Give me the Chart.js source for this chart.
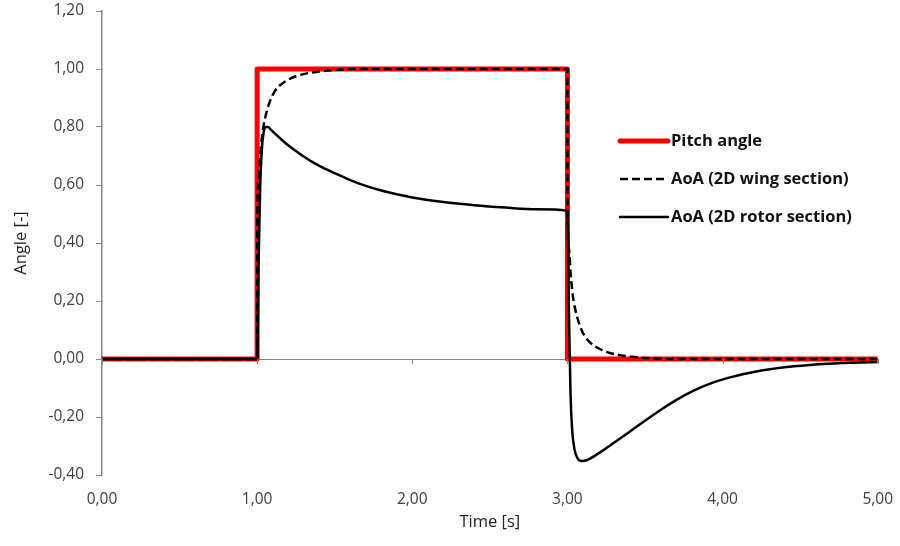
<!DOCTYPE html>
<html>
<head>
<meta charset="utf-8">
<script src="https://cdn.jsdelivr.net/npm/chart.js@4/dist/chart.umd.min.js"></script>
<style>
  html, body { margin: 0; padding: 0; background: #fff; }
  #wrap { width: 900px; height: 546px; }
</style>
</head>
<body>
<div id="wrap"><canvas id="angleChart" width="900" height="546"></canvas></div>
<script>
// values
var xTicks = [0, 1, 2, 3, 4, 5];
var yTicks = [-0.4, -0.2, 0, 0.2, 0.4, 0.6, 0.8, 1.0, 1.2];

var pitchTime  = [0, 1, 1, 3, 3, 5];
var pitchAngle = [0, 0, 1, 1, 0, 0];

var wingTime = [0, 1.00, 1.001, 1.01, 1.02, 1.03, 1.04, 1.06, 1.08, 1.11, 1.15, 1.20, 1.26, 1.33, 1.40, 1.52, 1.70,
                3.00, 3.001, 3.01, 3.02, 3.03, 3.04, 3.06, 3.08, 3.11, 3.15, 3.20, 3.26, 3.33, 3.40, 3.52, 3.70, 5.00];
var wingAoA  = [0, 0, 0.50, 0.62, 0.70, 0.76, 0.80, 0.85, 0.885, 0.92, 0.945, 0.963, 0.977, 0.986, 0.991, 0.997, 1.0,
                1.0, 0.50, 0.38, 0.30, 0.24, 0.20, 0.15, 0.115, 0.08, 0.055, 0.037, 0.023, 0.014, 0.009, 0.003, 0, 0];

var rotorTime = [0, 1.00, 1.01, 1.02, 1.03, 1.04, 1.055, 1.07, 1.09, 1.12, 1.16, 1.20, 1.25, 1.30, 1.36, 1.42, 1.50,
                 1.60, 1.70, 1.80, 1.90, 2.00, 2.20, 2.40, 2.60, 2.80, 3.00,
                 3.01, 3.02, 3.03, 3.045, 3.065, 3.09, 3.11, 3.14, 3.17, 3.23, 3.30, 3.39, 3.50, 3.60, 3.70,
                 3.81, 3.92, 4.03, 4.25, 4.46, 4.68, 5.00];
var rotorAoA  = [0, 0, 0.35, 0.60, 0.72, 0.775, 0.80, 0.80, 0.79, 0.775, 0.755, 0.737, 0.717, 0.698, 0.678, 0.661, 0.641,
                 0.617, 0.597, 0.581, 0.568, 0.557, 0.541, 0.530, 0.522, 0.516, 0.511,
                 0.15, -0.12, -0.24, -0.31, -0.342, -0.352, -0.351, -0.345, -0.336, -0.315, -0.289, -0.255, -0.213, -0.176, -0.142,
                 -0.110, -0.085, -0.066, -0.040, -0.025, -0.016, -0.010];

function toPoints(xs, ys) {
  return xs.map(function(x, i) { return { x: x, y: ys[i] }; });
}

function comma(v) {
  return v.toFixed(2).replace('.', ',');
}

var axisGrey = '#868686';
var textGrey = '#404040';

// small tick marks hanging below the zero line
var zeroTicks = {
  id: 'zeroTicks',
  afterDatasetsDraw: function(chart) {
    var ctx = chart.ctx, xs = chart.scales.x, y0 = chart.scales.y.getPixelForValue(0);
    ctx.save();
    ctx.strokeStyle = axisGrey;
    ctx.lineWidth = 1;
    xTicks.forEach(function(t) {
      var px = Math.round(xs.getPixelForValue(t)) + 0.5;
      ctx.beginPath();
      ctx.moveTo(px, y0);
      ctx.lineTo(px, y0 + 5);
      ctx.stroke();
    });
    ctx.restore();
  }
};

// legend sitting inside the plot, right side
var insideLegend = {
  id: 'insideLegend',
  afterDraw: function(chart) {
    var ctx = chart.ctx;
    var x0 = 620, x1 = 668, rowY = [141, 179, 217];
    ctx.save();
    ctx.font = 'bold 16.5px "Open Sans"';
    ctx.textBaseline = 'middle';
    chart.data.datasets.forEach(function(ds, i) {
      ctx.beginPath();
      ctx.strokeStyle = ds.borderColor;
      ctx.lineWidth = ds.borderWidth;
      ctx.lineCap = ds.borderDash ? 'butt' : 'round';
      ctx.setLineDash(ds.borderDash || []);
      ctx.moveTo(x0, rowY[i]);
      ctx.lineTo(x1, rowY[i]);
      ctx.stroke();
      ctx.setLineDash([]);
      ctx.fillStyle = '#111';
      ctx.fillText(ds.label, x1 + 3, rowY[i]);
    });
    ctx.restore();
  }
};

var chart = new Chart(document.getElementById('angleChart'), {
  type: 'line',
  data: {
    datasets: [{
      label: 'Pitch angle',
      data: toPoints(pitchTime, pitchAngle),
      borderColor: '#ff0000',
      borderWidth: 5,
      order: 3
    }, {
      label: 'AoA (2D wing section)',
      data: toPoints(wingTime, wingAoA),
      borderColor: '#000000',
      borderWidth: 2.5,
      borderDash: [8, 4],
      cubicInterpolationMode: 'monotone',
      order: 2
    }, {
      label: 'AoA (2D rotor section)',
      data: toPoints(rotorTime, rotorAoA),
      borderColor: '#000000',
      borderWidth: 2.5,
      cubicInterpolationMode: 'monotone',
      order: 1
    }]
  },
  options: {
    responsive: false,
    animation: false,
    events: [],
    layout: { padding: { left: 0, right: 14, top: 11, bottom: 0 } },
    elements: {
      point: { radius: 0 },
      line: { tension: 0, fill: false, borderJoinStyle: 'round' }
    },
    plugins: {
      legend: { display: false },
      tooltip: { enabled: false }
    },
    scales: {
      x: {
        type: 'linear',
        min: 0,
        max: 5,
        afterBuildTicks: function(scale) {
          scale.ticks = xTicks.map(function(v) { return { value: v }; });
        },
        afterFit: function(scale) { scale.height = 71; },
        grid: { display: false },
        border: { display: false },
        ticks: {
          padding: 7,
          color: textGrey,
          font: { family: 'Open Sans', size: 15.5 },
          maxRotation: 0,
          callback: function(v) { return comma(v); }
        },
        title: {
          display: true,
          text: 'Time [s]',
          color: '#222',
          font: { family: 'Open Sans', size: 16.5 },
          padding: { top: 4, bottom: 14 }
        }
      },
      y: {
        min: -0.4,
        max: 1.2,
        afterBuildTicks: function(scale) {
          scale.ticks = yTicks.map(function(v) { return { value: v }; });
        },
        afterFit: function(scale) {
          scale.width = 102;
          scale.paddingTop = 0;
        },
        grid: {
          drawOnChartArea: true,
          tickLength: 6,
          tickColor: axisGrey,
          color: function(c) { return c.tick && Math.abs(c.tick.value) < 1e-9 ? axisGrey : 'rgba(0,0,0,0)'; }
        },
        border: { display: true, color: axisGrey, width: 1.5 },
        ticks: {
          padding: 12,
          color: textGrey,
          font: { family: 'Open Sans', size: 15.5 },
          callback: function(v) { return comma(v); }
        },
        title: {
          display: true,
          text: 'Angle [-]',
          color: '#222',
          font: { family: 'Open Sans', size: 16.5 },
          padding: { top: 11, bottom: 0 }
        }
      }
    }
  },
  plugins: [zeroTicks, insideLegend]
});
</script>
</body>
</html>
